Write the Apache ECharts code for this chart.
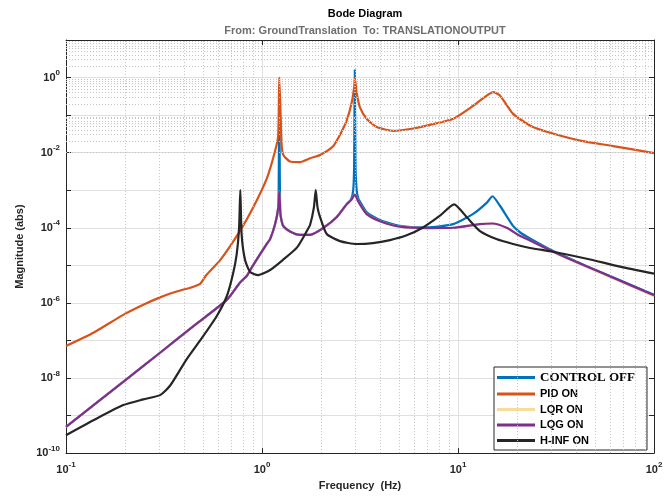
<!DOCTYPE html>
<html>
<head>
<meta charset="utf-8">
<script src="https://cdn.jsdelivr.net/npm/echarts@6/dist/echarts.min.js"></script>
<style>
html, body { margin: 0; padding: 0; background: #fff; }
#chart { width: 671px; height: 496px; }
</style>
</head>
<body>
<div id="chart"></div>
<script>
// values (Hz, abs)
var seriesNames = ['CONTROL OFF', 'PID ON', 'LQR ON', 'LQG ON', 'H-INF ON']
var seriesColors = ['#0072BD', '#D95319', '#F7DC9C', '#7E2F8E', '#262626']

var offFreq = [0.1, 0.204, 0.302, 0.447, 0.661, 0.773, 0.836, 0.9, 1.06, 1.10, 1.164, 1.21, 1.218, 1.225, 1.232, 1.24, 1.26, 1.285, 1.39, 1.56, 1.76, 2.06, 2.4, 2.7, 2.85, 2.92, 2.95, 2.975, 3.0, 3.04, 3.1, 3.16, 3.42, 4.0, 5.06, 6.92, 9.46, 11.9, 14.0, 15.0, 16.4, 19.1, 20.7, 23.3, 30.6, 45.4, 67.1, 100]
var offMag = [5e-10, 9.3e-9, 4.7e-8, 2.4e-7, 1.2e-6, 3.5e-6, 5.2e-6, 1e-5, 3.8e-5, 5e-5, 1.2e-4, 3.4e-4, 3e-3, 0.4, 3e-3, 2.5e-4, 1.5e-4, 1.1e-4, 8e-5, 6.5e-5, 6.5e-5, 1e-4, 1.9e-4, 4.2e-4, 5.8e-4, 1e-3, 4e-3, 1.6, 4e-3, 1e-3, 6e-4, 5e-4, 2.6e-4, 1.6e-4, 1.12e-4, 1.02e-4, 1.25e-4, 2.3e-4, 4.6e-4, 6.9e-4, 3.8e-4, 1.12e-4, 7.6e-5, 5.2e-5, 2.4e-5, 9.5e-6, 4e-6, 1.65e-6]

var pidFreq = [0.1, 0.138, 0.196, 0.248, 0.302, 0.367, 0.447, 0.483, 0.52, 0.61, 0.773, 0.9, 1.06, 1.164, 1.21, 1.225, 1.26, 1.285, 1.39, 1.56, 1.76, 1.98, 2.3, 2.5, 2.7, 2.87, 2.96, 2.98, 3.04, 3.16, 3.42, 3.85, 4.68, 5.92, 7.19, 9.46, 12.0, 14.0, 15.1, 16.4, 19.1, 23.3, 28.4, 41.9, 61.9, 100]
var pidMag = [7.1e-8, 1.6e-7, 4.8e-7, 8.9e-7, 1.4e-6, 2e-6, 2.7e-6, 3.2e-6, 5.5e-6, 1.35e-5, 8.3e-5, 3.4e-4, 2.1e-3, 1.07e-2, 2.9e-2, 1.0, 1.6e-2, 8.7e-3, 5.8e-3, 5.6e-3, 7.1e-3, 8.7e-3, 1.45e-2, 3e-2, 7e-2, 0.22, 0.6, 0.95, 0.4, 0.16, 0.08, 0.048, 0.038, 0.044, 0.055, 0.08, 0.18, 0.33, 0.41, 0.33, 0.108, 0.053, 0.036, 0.021, 0.015, 0.0097]

var lqrFreq = [0.1, 0.204, 0.302, 0.447, 0.661, 0.773, 0.836, 0.9, 1.06, 1.10, 1.164, 1.21, 1.225, 1.24, 1.26, 1.285, 1.39, 1.56, 1.76, 2.06, 2.4, 2.7, 2.85, 2.975, 3.1, 3.16, 3.42, 4.0, 5.06, 6.92, 9.46, 12.9, 15.0, 17.7, 20.7, 23.3, 30.6, 45.4, 67.1, 100]
var lqrMag = [5e-10, 9.3e-9, 4.7e-8, 2.4e-7, 1.2e-6, 3.5e-6, 5.2e-6, 1e-5, 3.8e-5, 5e-5, 1.2e-4, 3.4e-4, 9.4e-4, 2.5e-4, 1.5e-4, 1.1e-4, 8e-5, 6.5e-5, 6.5e-5, 1e-4, 1.9e-4, 4.2e-4, 5.5e-4, 7.6e-4, 5e-4, 4.2e-4, 2.3e-4, 1.5e-4, 1.07e-4, 9.8e-5, 1e-4, 1.25e-4, 1.3e-4, 1e-4, 6e-5, 4.5e-5, 2.25e-5, 9e-6, 3.7e-6, 1.5e-6]

var lqgFreq = [0.1, 0.204, 0.302, 0.447, 0.661, 0.773, 0.836, 0.9, 1.06, 1.10, 1.164, 1.21, 1.225, 1.24, 1.26, 1.285, 1.39, 1.56, 1.76, 2.06, 2.4, 2.7, 2.85, 2.975, 3.1, 3.16, 3.42, 4.0, 5.06, 6.92, 9.46, 12.9, 15.0, 17.7, 20.7, 23.3, 30.6, 45.4, 67.1, 100]
var lqgMag = [5e-10, 9.3e-9, 4.7e-8, 2.4e-7, 1.2e-6, 3.5e-6, 5.2e-6, 1e-5, 3.8e-5, 5e-5, 1.2e-4, 3.4e-4, 9.4e-4, 2.5e-4, 1.5e-4, 1.1e-4, 8e-5, 6.5e-5, 6.5e-5, 1e-4, 1.9e-4, 4.2e-4, 5.5e-4, 7.6e-4, 5e-4, 4.2e-4, 2.3e-4, 1.5e-4, 1.07e-4, 9.8e-5, 1e-4, 1.25e-4, 1.3e-4, 1e-4, 6.1e-5, 4.6e-5, 2.3e-5, 9.3e-6, 3.9e-6, 1.6e-6]

var hinfFreq = [0.1, 0.138, 0.196, 0.248, 0.302, 0.34, 0.413, 0.501, 0.587, 0.661, 0.711, 0.743, 0.764, 0.775, 0.787, 0.819, 0.869, 0.955, 1.10, 1.28, 1.51, 1.70, 1.76, 1.84, 1.88, 1.92, 1.98, 2.14, 2.5, 3.04, 3.68, 4.5, 5.47, 6.63, 8.09, 9.55, 11.1, 12.9, 15.7, 19.1, 23.3, 30.5, 45.4, 67.1, 100]
var hinfMag = [3e-10, 7.5e-10, 1.9e-9, 2.7e-9, 3.5e-9, 6.3e-9, 3.2e-8, 1.3e-7, 4.4e-7, 1.5e-6, 5.9e-6, 2e-5, 1e-4, 1e-3, 6.8e-5, 1.4e-5, 6.7e-6, 5.5e-6, 7.5e-6, 1.4e-5, 3e-5, 8.5e-5, 1.2e-4, 3.5e-4, 1e-3, 3.5e-4, 1.9e-4, 6.8e-5, 4.4e-5, 3.7e-5, 3.9e-5, 4.7e-5, 6.3e-5, 1.02e-4, 2.1e-4, 4.2e-4, 1.9e-4, 8.3e-5, 5e-5, 3.7e-5, 2.9e-5, 2.3e-5, 1.5e-5, 9.2e-6, 6e-6]

// minor grid: 2..9 within each decade
var minorSteps = [2, 3, 4, 5, 6, 7, 8, 9]
var xDecades = [0.1, 1, 10]
var yDecades = [1e-10, 1e-9, 1e-8, 1e-7, 1e-6, 1e-5, 1e-4, 1e-3, 1e-2, 1e-1, 1]

function zip (f, m) {
  return f.map(function (v, i) { return [v, m[i]] })
}

var allFreq = [offFreq, pidFreq, lqrFreq, lqgFreq, hinfFreq]
var allMag = [offMag, pidMag, lqrMag, lqgMag, hinfMag]

var minorLines = []
xDecades.forEach(function (d) {
  minorSteps.forEach(function (k) { minorLines.push({ xAxis: +(k * d).toPrecision(3) }) })
})
yDecades.forEach(function (d) {
  minorSteps.forEach(function (k) { minorLines.push({ yAxis: +(k * d).toPrecision(3) }) })
})

function powLabel (v) {
  var e = Math.round(Math.log10(v))
  return '{b|10}{e|' + e + '}'
}

var labelRich = {
  b: { fontSize: 11, fontWeight: 'bold', fontFamily: 'Liberation Sans', color: '#262626' },
  e: { fontSize: 8, fontWeight: 'bold', fontFamily: 'Liberation Sans', color: '#262626', padding: [0, 0, 9, 0] }
}

var series = [{
  name: 'grid',
  type: 'line',
  data: [],
  silent: true,
  z: 1,
  markLine: {
    silent: true,
    symbol: 'none',
    label: { show: false },
    animation: false,
    lineStyle: { color: '#c4c4c4', type: [1, 2], width: 1 },
    data: minorLines
  }
}]
seriesNames.forEach(function (name, i) {
  series.push({
    name: name,
    type: 'line',
    data: zip(allFreq[i], allMag[i]),
    showSymbol: false,
    symbol: 'none',
    smooth: 0.2,
    z: 2 + i,
    lineStyle: { width: 2.2, color: seriesColors[i] },
    itemStyle: { color: seriesColors[i] }
  })
})

var el = document.getElementById('chart')
var myChart = echarts.init(el)
myChart.setOption({
  animation: false,
  backgroundColor: '#fff',
  title: [{
    text: 'Bode Diagram',
    left: 360,
    top: 3,
    textAlign: 'center',
    textStyle: { fontSize: 11, fontWeight: 'bold', fontFamily: 'Liberation Sans', color: '#000' }
  }, {
    text: 'From: GroundTranslation  To: TRANSLATIONOUTPUT',
    left: 360,
    top: 20,
    textAlign: 'center',
    textStyle: { fontSize: 11, fontWeight: 'bold', fontFamily: 'Liberation Sans', color: '#6e6e6e' }
  }],
  grid: { left: 66, right: 17, top: 40, bottom: 39 },
  legend: {
    data: seriesNames,
    orient: 'vertical',
    left: 494,
    top: 367,
    icon: 'rect',
    itemWidth: 38,
    itemHeight: 3,
    itemGap: 4.5,
    padding: [4, 12, 4, 3],
    borderColor: '#262626',
    borderWidth: 1,
    backgroundColor: '#fff',
    formatter: function (name) {
      return name === 'CONTROL OFF' ? '{s|' + name + '}' : '{a|' + name + '}'
    },
    textStyle: {
      rich: {
        s: { fontFamily: 'Liberation Serif', fontWeight: 'bold', fontSize: 13, color: '#000', lineHeight: 15 },
        a: { fontFamily: 'Liberation Sans', fontWeight: 'bold', fontSize: 11, color: '#000', lineHeight: 15 }
      }
    }
  },
  xAxis: [{
    type: 'log',
    logBase: 10,
    min: 0.1,
    max: 100,
    interval: 1,
    name: 'Frequency  (Hz)',
    nameLocation: 'middle',
    nameGap: 26,
    nameTextStyle: { fontSize: 11, fontWeight: 'bold', fontFamily: 'Liberation Sans', color: '#262626' },
    axisLine: { lineStyle: { color: '#262626', width: 1 } },
    axisTick: { inside: true, length: 5, lineStyle: { color: '#262626' } },
    axisLabel: { formatter: powLabel, rich: labelRich, margin: 8 },
    splitLine: { show: true, lineStyle: { color: '#e0e0e0', width: 1 } }
  }, {
    type: 'log',
    logBase: 10,
    min: 0.1,
    max: 100,
    interval: 1,
    position: 'top',
    axisLine: { show: true, lineStyle: { color: '#262626', width: 1 } },
    axisTick: { inside: true, length: 5, lineStyle: { color: '#262626' } },
    axisLabel: { show: false },
    splitLine: { show: false }
  }],
  yAxis: [{
    type: 'log',
    logBase: 10,
    min: 1e-10,
    max: 10,
    interval: 1,
    name: 'Magnitude (abs)',
    nameLocation: 'middle',
    nameGap: 33,
    nameTextStyle: { fontSize: 11, fontWeight: 'bold', fontFamily: 'Liberation Sans', color: '#262626' },
    axisLine: { show: true, lineStyle: { color: '#262626', width: 1 } },
    axisTick: { show: true, inside: true, length: 5, lineStyle: { color: '#262626' } },
    axisLabel: {
      formatter: function (v) {
        var e = Math.round(Math.log10(v))
        return e % 2 === 0 ? powLabel(v) : ''
      },
      rich: labelRich,
      margin: 6
    },
    splitLine: { show: true, lineStyle: { color: '#e0e0e0', width: 1 } }
  }, {
    type: 'log',
    logBase: 10,
    min: 1e-10,
    max: 10,
    interval: 1,
    position: 'right',
    axisLine: { show: true, lineStyle: { color: '#262626', width: 1 } },
    axisTick: { show: true, inside: true, length: 5, lineStyle: { color: '#262626' } },
    axisLabel: { show: false },
    splitLine: { show: false }
  }],
  series: series
})
</script>
</body>
</html>
